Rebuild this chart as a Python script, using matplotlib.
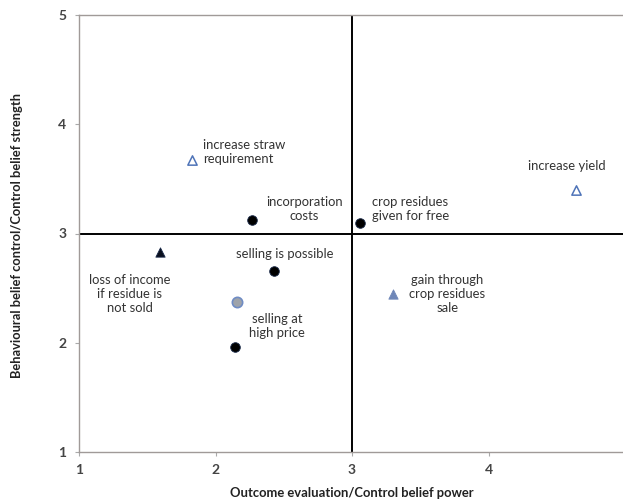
import matplotlib
matplotlib.use("Agg")
import matplotlib.pyplot as plt

plt.rcParams['font.family'] = ['Lato', 'DejaVu Sans']

# Data
labels = ["increase straw\nrequirement", "incorporation\ncosts", "crop residues\ngiven for free",
          "increase yield", "loss of income\nif residue is\nnot sold", "selling is possible",
          "", "selling at\nhigh price", "gain through\ncrop residues\nsale"]
x_vals = [1.83, 2.27, 3.06, 4.64, 1.59, 2.43, 2.16, 2.14, 3.30]
y_vals = [3.67, 3.12, 3.10, 3.40, 2.83, 2.66, 2.37, 1.96, 2.45]
kinds = ["open_tri", "dot", "dot", "open_tri", "black_tri", "dot", "gray_dot", "dot", "blue_tri"]

# label placement (text anchor in data coords, alignment)
label_pos = [(1.91, 3.745, 'left'), (2.65, 3.22, 'center'), (3.15, 3.22, 'left'),
             (4.575, 3.62, 'center'), (1.37, 2.45, 'center'), (2.15, 2.81, 'left'),
             (0, 0, 'center'), (2.45, 2.15, 'center'), (3.70, 2.45, 'center')]

styles = {
    "open_tri": dict(marker='^', s=45, facecolors='white', edgecolors='#4f74b8', linewidths=1.1),
    "dot": dict(marker='o', s=48, facecolors='black', edgecolors='#1a2a4a', linewidths=0.6),
    "black_tri": dict(marker='^', s=45, facecolors='#0a0f1e', edgecolors='#1a2a4a', linewidths=0.6),
    "gray_dot": dict(marker='o', s=55, facecolors='#9ea3aa', edgecolors='#6f8cc4', linewidths=1.2),
    "blue_tri": dict(marker='^', s=45, facecolors='#6f87b8', edgecolors='#6f87b8', linewidths=0.6),
}

fig = plt.figure(figsize=(6.23, 5.04), dpi=100)
ax = fig.add_axes([79/623, (504-452)/504, (625-79)/623, (452-15)/504])
ax.set_xlim(1, 5)
ax.set_ylim(1, 5)

ax.axvline(3, color='black', lw=1.4, zorder=1)
ax.axhline(3, color='black', lw=1.4, zorder=1)

for x, y, k in zip(x_vals, y_vals, kinds):
    ax.scatter([x], [y], zorder=3, **styles[k])

for lab, (tx, ty, ha) in zip(labels, label_pos):
    if lab:
        ax.text(tx, ty, lab, ha=ha, va='center', fontsize=9.4, color='#333333',
                linespacing=1.2, multialignment='center' if ha == 'center' else 'left')

ticks = [1, 2, 3, 4, 5]
ax.set_xticks(ticks)
ax.set_yticks(ticks)
ax.set_xticklabels(["1", "2", "3", "4", ""])
ax.set_yticklabels([str(t) for t in ticks])
ax.tick_params(axis='both', direction='out', length=3, color='#aaaaaa', labelsize=10,
               labelcolor='#444444', width=0.8)
for lbl in ax.get_xticklabels() + ax.get_yticklabels():
    lbl.set_fontweight('bold')
ax.tick_params(axis='x', pad=6)
ax.tick_params(axis='y', pad=6)

for sp in ['left', 'bottom', 'top']:
    ax.spines[sp].set_color('#a09a98')
    ax.spines[sp].set_linewidth(1.0)
ax.spines['right'].set_visible(False)

fig.text(352/623, 1 - 493/504, "Outcome evaluation/Control belief power", ha='center', va='center',
         fontsize=9.4, fontweight='bold', color='#222222')
fig.text(17/623, 1 - 236/504, "Behavioural belief control/Control belief strength", ha='center',
         va='center', rotation=90, fontsize=9.3, fontweight='bold', color='#222222')

fig.savefig("out.png", dpi=100)
